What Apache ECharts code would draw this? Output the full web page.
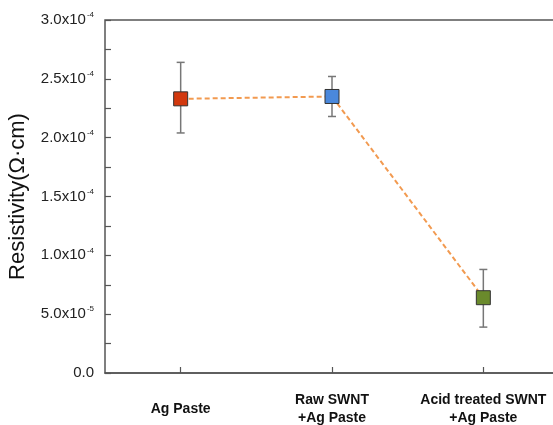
<!DOCTYPE html>
<html>
<head>
<meta charset="utf-8">
<script src="https://cdn.jsdelivr.net/npm/echarts@6/dist/echarts.min.js"></script>
<style>
  html, body { margin: 0; padding: 0; background: #fff; }
  #chart { width: 553px; height: 425px; }
</style>
</head>
<body>
<div id="chart"></div>
<script>
// values
const categories = ['Ag Paste', 'Raw SWNT\n+Ag Paste', 'Acid treated SWNT\n+Ag Paste']
const resistivity = [2.33e-4, 2.35e-4, 0.64e-4]
const errLow = [2.04e-4, 2.18e-4, 0.39e-4]
const errHigh = [2.64e-4, 2.52e-4, 0.88e-4]
const pointColors = ['#d2380e', '#4a88dc', '#6a8a2c']

const FONT = 'Arial, "Liberation Sans", sans-serif'

function sciLabel(v) {
  if (v === 0) return '{a|0.0}'
  const parts = v.toExponential(1).split('e')
  return '{a|' + parts[0] + 'x10}{s|' + parseInt(parts[1], 10) + '}'
}

const chart = echarts.init(document.getElementById('chart'))

chart.setOption({
  animation: false,
  grid: {
    left: 105,
    top: 20,
    width: 454,
    height: 353,
    outerBoundsMode: 'none',
    show: true,
    borderColor: '#555',
    borderWidth: 1.5
  },
  xAxis: {
    type: 'category',
    data: categories,
    boundaryGap: true,
    axisLine: { lineStyle: { color: '#555', width: 1.5 } },
    axisTick: { show: true, inside: true, alignWithLabel: true, interval: 0, length: 6, lineStyle: { color: '#555', width: 1.2 } },
    axisLabel: {
      interval: 0,
      hideOverlap: false,
      color: '#111',
      fontFamily: FONT,
      fontWeight: 'bold',
      fontSize: 14,
      lineHeight: 18,
      verticalAlign: 'middle',
      margin: 36
    }
  },
  yAxis: {
    type: 'value',
    min: 0,
    max: 3e-4,
    interval: 0.5e-4,
    name: 'Resistivity(Ω·cm)',
    nameLocation: 'middle',
    nameGap: 76,
    nameTextStyle: { fontFamily: FONT, fontSize: 22, color: '#111' },
    splitLine: { show: false },
    axisLine: { lineStyle: { color: '#555', width: 1.5 } },
    axisTick: { show: true, inside: true, length: 6, lineStyle: { color: '#555', width: 1.2 } },
    minorTick: { show: true, splitNumber: 2, length: 6, lineStyle: { color: '#555', width: 1.2 } },
    axisLabel: {
      margin: 11,
      formatter: sciLabel,
      rich: {
        a: { fontFamily: FONT, fontSize: 15, color: '#222' },
        s: { fontFamily: FONT, fontSize: 8, color: '#222', verticalAlign: 'top', padding: [0, 0, 10, 1] }
      }
    }
  },
  series: [
    {
      type: 'custom',
      z: 1,
      data: categories.map((c, i) => [i, errLow[i], errHigh[i]]),
      renderItem: function(params, api) {
        const hi = api.coord([api.value(0), api.value(2)])
        const lo = api.coord([api.value(0), api.value(1)])
        const st = { stroke: '#777', lineWidth: 1.5 }
        return {
          type: 'group',
          children: [
            { type: 'line', shape: { x1: hi[0], y1: hi[1], x2: lo[0], y2: lo[1] }, style: st },
            { type: 'line', shape: { x1: hi[0] - 4, y1: hi[1], x2: hi[0] + 4, y2: hi[1] }, style: st },
            { type: 'line', shape: { x1: lo[0] - 4, y1: lo[1], x2: lo[0] + 4, y2: lo[1] }, style: st }
          ]
        }
      }
    },
    {
      type: 'line',
      z: 3,
      data: resistivity.map((v, i) => ({
        value: v,
        itemStyle: { color: pointColors[i] }
      })),
      symbol: 'rect',
      symbolSize: 14,
      itemStyle: { borderColor: '#333', borderWidth: 1 },
      lineStyle: { color: '#f29a50', width: 2, type: [5, 3] }
    }
  ]
})
</script>
</body>
</html>
